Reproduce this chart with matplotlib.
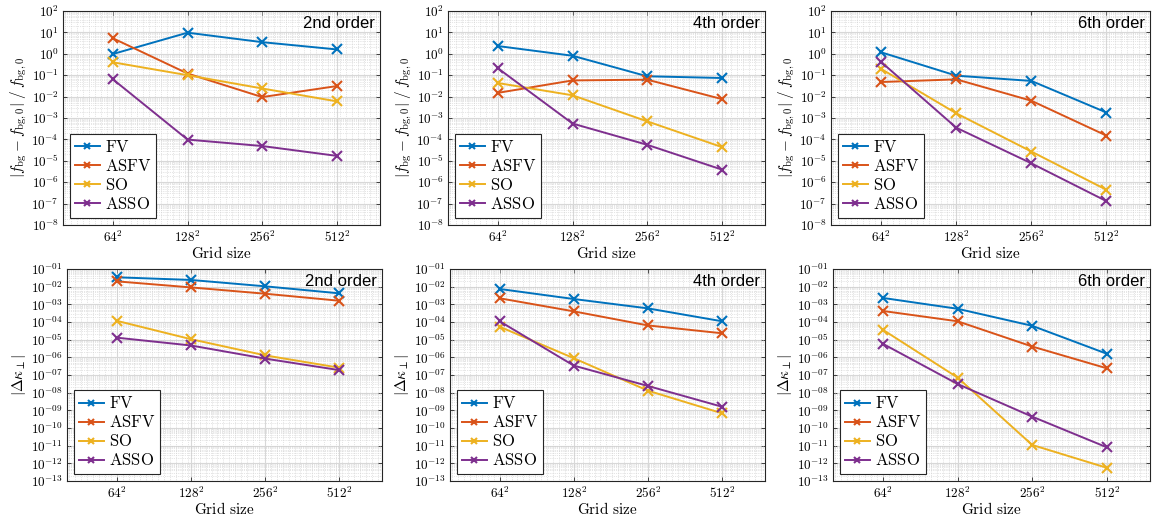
import matplotlib
matplotlib.use("Agg")
import matplotlib.pyplot as plt
from matplotlib.ticker import FixedLocator, MultipleLocator, LogLocator, NullFormatter
import numpy as np

plt.rcParams['mathtext.fontset'] = 'cm'
plt.rcParams['font.family'] = 'DejaVu Serif'

grid_labels = [r'$64^2$', r'$128^2$', r'$256^2$', r'$512^2$']
methods = ['FV', 'ASFV', 'SO', 'ASSO']
colors = ['#0072BD', '#D95319', '#EDB120', '#7E2F8E']
orders = ['2nd order', '4th order', '6th order']

# relative background error |f_bg - f_bg,0| / f_bg,0
fbg_2nd = {
    'FV':   [0.98, 9.7, 3.5, 1.6],
    'ASFV': [5.3, 0.12, 0.0095, 0.031],
    'SO':   [0.40, 0.10, 0.024, 0.006],
    'ASSO': [0.064, 9.8e-5, 4.9e-5, 1.7e-5],
}
fbg_4th = {
    'FV':   [2.3, 0.81, 0.089, 0.074],
    'ASFV': [0.015, 0.057, 0.062, 0.0077],
    'SO':   [0.043, 0.0115, 7.0e-4, 4.4e-5],
    'ASSO': [0.21, 5.5e-4, 5.6e-5, 3.9e-6],
}
fbg_6th = {
    'FV':   [1.17, 0.095, 0.054, 1.8e-3],
    'ASFV': [0.048, 0.064, 6.4e-3, 1.5e-4],
    'SO':   [0.195, 1.65e-3, 2.7e-5, 4.4e-7],
    'ASSO': [0.41, 3.5e-4, 7.6e-6, 1.3e-7],
}

# perpendicular diffusion error |Delta kappa_perp|
kap_2nd = {
    'FV':   [0.034, 0.024, 0.0105, 0.0042],
    'ASFV': [0.020, 0.0091, 0.0040, 0.0016],
    'SO':   [1.17e-4, 1.07e-5, 1.3e-6, 2.6e-7],
    'ASSO': [1.3e-5, 4.7e-6, 8.5e-7, 1.9e-7],
}
kap_4th = {
    'FV':   [7.4e-3, 2.0e-3, 5.9e-4, 1.1e-4],
    'ASFV': [2.2e-3, 4.0e-4, 6.4e-5, 2.3e-5],
    'SO':   [5.4e-5, 8.9e-7, 1.3e-8, 6.8e-10],
    'ASSO': [1.1e-4, 3.4e-7, 2.4e-8, 1.6e-9],
}
kap_6th = {
    'FV':   [2.3e-3, 5.6e-4, 6.1e-5, 1.6e-6],
    'ASFV': [4.2e-4, 1.1e-4, 4.1e-6, 2.4e-7],
    'SO':   [3.6e-5, 7.2e-8, 1.1e-11, 5.6e-13],
    'ASSO': [5.8e-6, 3.1e-8, 4.4e-10, 8.1e-12],
}

top_data = [fbg_2nd, fbg_4th, fbg_6th]
bot_data = [kap_2nd, kap_4th, kap_6th]

W, H = 1156, 521
fig = plt.figure(figsize=(W / 100, H / 100), dpi=100)

# pixel boxes (left, top, right, bottom)
top_boxes = [(63, 11, 380, 225), (448, 11, 765, 225), (831, 11, 1150, 225)]
bot_boxes = [(67, 269, 382, 481), (450, 269, 765, 481), (833, 269, 1150, 481)]


def make_axes(box):
    l, t, r, b = box
    return fig.add_axes([l / W, 1 - b / H, (r - l) / W, (b - t) / H])


def style_axes(ax, ymin, ymax, pad_zero):
    x = np.arange(len(grid_labels))
    ax.set_yscale('log')
    ax.set_xlim(-0.67, 3.58)
    ax.set_ylim(10.0 ** ymin, 10.0 ** ymax)
    ax.xaxis.set_major_locator(FixedLocator(x))
    ax.set_xticklabels(grid_labels, fontsize=9.5)
    ax.xaxis.set_minor_locator(MultipleLocator(0.08))
    exps = np.arange(ymin, ymax + 1)
    ax.yaxis.set_major_locator(FixedLocator(10.0 ** exps))
    if pad_zero:
        labs = [r'$10^{%s%02d}$' % ('-' if e < 0 else '', abs(e)) for e in exps]
    else:
        labs = [r'$10^{%d}$' % e for e in exps]
    ax.set_yticklabels(labs, fontsize=9.5)
    ax.yaxis.set_minor_locator(LogLocator(base=10, subs=np.arange(2, 10), numticks=100))
    ax.yaxis.set_minor_formatter(NullFormatter())
    ax.tick_params(which='both', direction='in', top=True, right=True,
                   length=3, width=0.6, color='#262626', pad=3)
    ax.tick_params(which='minor', length=0)
    ax.grid(which='major', color='#d8d8d8', linewidth=0.8, linestyle='-')
    ax.grid(which='minor', color='#cccccc', linewidth=0.5, linestyle=':')
    ax.set_axisbelow(True)
    for sp in ax.spines.values():
        sp.set_color('#262626')
        sp.set_linewidth(0.8)
    ax.set_xlabel(r'$\mathrm{Grid\ size}$', fontsize=11, labelpad=0)


def draw(ax, data, label):
    x = np.arange(len(grid_labels))
    for m, c in zip(methods, colors):
        ax.plot(x, data[m], color=c, marker='x', markersize=7,
                markeredgewidth=1.5, linewidth=1.4, label=r'$\mathrm{%s}$' % m)
    ax.text(0.985, 0.975, label, transform=ax.transAxes, ha='right', va='top',
            fontsize=12, family='Liberation Sans', color='black')
    leg = ax.legend(loc='lower left', fontsize=12, fancybox=False,
                    framealpha=1, edgecolor='#262626', handlelength=1.5,
                    handletextpad=0.3, borderpad=0.3, labelspacing=0.12,
                    borderaxespad=0.4, markerscale=0.7)
    leg.get_frame().set_linewidth(0.8)


for i in range(3):
    ax = make_axes(top_boxes[i])
    style_axes(ax, -8, 2, False)
    draw(ax, top_data[i], orders[i])
    ax.set_ylabel(r'$|f_{\rm bg} - f_{\rm bg,0}|\;/\;f_{\rm bg,0}$', fontsize=11, labelpad=2)

    ax = make_axes(bot_boxes[i])
    style_axes(ax, -13, -1, True)
    draw(ax, bot_data[i], orders[i])
    ax.set_ylabel(r'$|\Delta\kappa_\perp|$', fontsize=11, labelpad=2)

fig.savefig('out.png', dpi=100)
